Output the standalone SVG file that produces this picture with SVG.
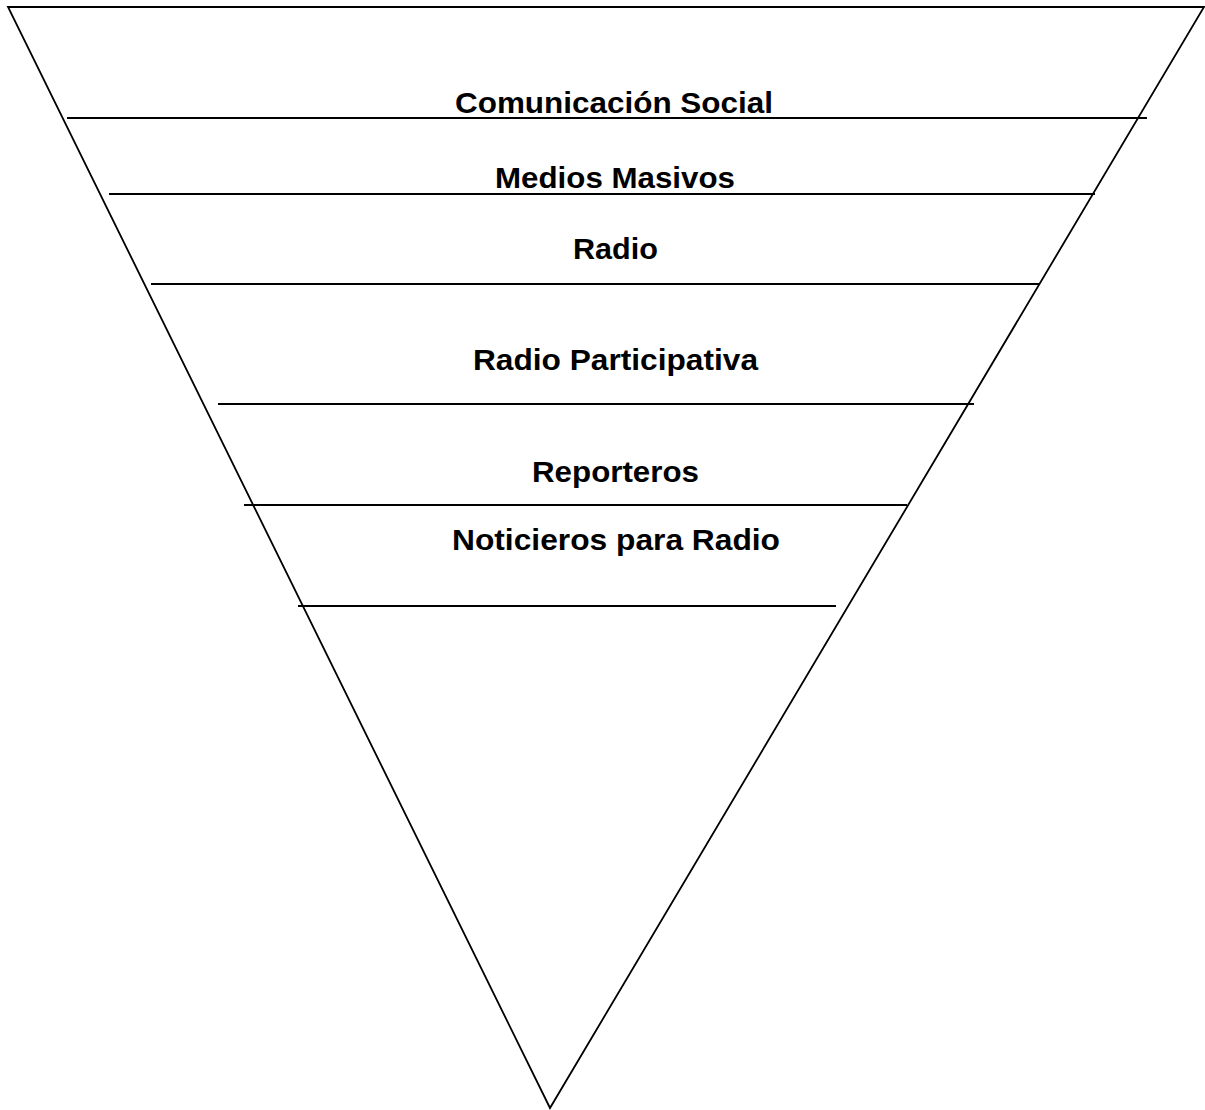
<svg xmlns="http://www.w3.org/2000/svg" width="1205" height="1110" viewBox="0 0 1205 1110">
<style>
.ln{stroke:#000;stroke-width:1.8;fill:none}
.lb{font-family:"Liberation Sans",Arial,sans-serif;font-weight:bold;font-size:30px;fill:#000}
</style>
<rect width="1205" height="1110" fill="#fff"/>
<g id="triangle"><polygon class="ln" points="8,7 1204,7 550,1108"/></g>
<g id="connectors">
<line class="ln" x1="67" y1="118" x2="1147" y2="118"/>
<line class="ln" x1="109" y1="194" x2="1095" y2="194"/>
<line class="ln" x1="151" y1="284" x2="1040" y2="284"/>
<line class="ln" x1="218" y1="404" x2="974" y2="404"/>
<line class="ln" x1="244" y1="505" x2="907" y2="505"/>
<line class="ln" x1="298" y1="606" x2="836" y2="606"/>
</g>
<g id="n1"><text class="lb" x="455" y="113" textLength="318" lengthAdjust="spacingAndGlyphs">Comunicación Social</text></g>
<g id="n2"><text class="lb" x="495" y="188" textLength="240" lengthAdjust="spacingAndGlyphs">Medios Masivos</text></g>
<g id="n3"><text class="lb" x="573" y="259" textLength="85" lengthAdjust="spacingAndGlyphs">Radio</text></g>
<g id="n4"><text class="lb" x="473" y="370" textLength="285" lengthAdjust="spacingAndGlyphs">Radio Participativa</text></g>
<g id="n5"><text class="lb" x="532" y="482" textLength="167" lengthAdjust="spacingAndGlyphs">Reporteros</text></g>
<g id="n6"><text class="lb" x="452" y="550" textLength="328" lengthAdjust="spacingAndGlyphs">Noticieros para Radio</text></g>
</svg>
